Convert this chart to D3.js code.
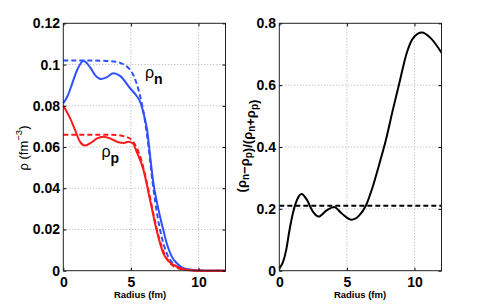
<!DOCTYPE html>
<html>
<head>
<meta charset="utf-8">
<script src="https://cdn.jsdelivr.net/npm/d3@7"></script>
<style>
  body { margin: 0; background: #fff; }
  svg { display: block; }
  .tick text { font-family: "Liberation Sans", Arial, sans-serif; font-weight: bold; font-size: 14px; fill: #000; }
  .tick line { stroke: #000; }
</style>
</head>
<body>
<script>
// neutron density, solid (fm, fm^-3)
const rN = [0, 0.3, 0.62, 1.0, 1.5, 2.0, 2.4, 2.77, 3.2, 3.7, 4.2, 4.94, 5.4, 5.68, 5.95, 6.22, 6.4, 6.67, 6.9, 7.16, 7.4, 7.65, 8.0, 8.4, 8.8, 9.26, 10, 11, 12];
const rhoN = [0.0812, 0.0845, 0.090, 0.097, 0.1017, 0.0985, 0.0945, 0.093, 0.0938, 0.0958, 0.0945, 0.0885, 0.085, 0.082, 0.076, 0.0674, 0.057, 0.0424, 0.034, 0.0262, 0.0197, 0.0133, 0.0072, 0.0036, 0.0015, 0.0007, 0.0001, 0, 0];
// neutron density, dashed
const rNd = [0, 1, 2, 3, 3.9, 4.3, 4.7, 5.19, 5.56, 5.93, 6.17, 6.3, 6.6, 6.96, 7.3, 7.7, 8.1, 8.5, 9, 9.5, 10, 11, 12];
const rhoNd = [0.102, 0.102, 0.102, 0.1018, 0.1014, 0.1006, 0.099, 0.0948, 0.0878, 0.077, 0.067, 0.0605, 0.0432, 0.0268, 0.0158, 0.0077, 0.0036, 0.0017, 0.0006, 0.0002, 0.0001, 0, 0];
// proton density, solid
const rP = [0, 0.5, 0.87, 1.23, 1.6, 2.1, 2.5, 2.95, 3.46, 4.07, 4.5, 4.8, 5.14, 5.43, 5.93, 6.42, 6.9, 7.4, 7.8, 8.15, 8.9, 9.5, 10, 12];
const rhoP = [0.080, 0.074, 0.0683, 0.0626, 0.0607, 0.0623, 0.0642, 0.065, 0.0642, 0.0623, 0.062, 0.0626, 0.0618, 0.0577, 0.0489, 0.0343, 0.0197, 0.0084, 0.0045, 0.0028, 0.0007, 0.0002, 0, 0];
// proton density, dashed
const rPd = [0, 1, 2, 3, 4.0, 4.5, 5.0, 5.4, 5.8, 6.1, 6.4, 6.7, 7.0, 7.4, 7.8, 8.2, 8.7, 9.5, 10, 12];
const rhoPd = [0.066, 0.066, 0.066, 0.066, 0.0658, 0.0652, 0.0638, 0.060, 0.053, 0.045, 0.036, 0.0265, 0.018, 0.0095, 0.0045, 0.002, 0.0008, 0.0001, 0, 0];
// asymmetry (rho_n - rho_p)/(rho_n + rho_p)
const rA = [0, 0.25, 0.5, 0.75, 1.0, 1.3, 1.65, 2.0, 2.5, 2.9, 3.5, 4.05, 4.6, 5.35, 5.9, 6.4, 6.9, 7.4, 7.9, 8.4, 8.9, 9.4, 9.9, 10.55, 11.2, 12];
const asym = [0.008, 0.025, 0.065, 0.13, 0.185, 0.228, 0.248, 0.232, 0.19, 0.175, 0.195, 0.206, 0.186, 0.165, 0.178, 0.21, 0.27, 0.345, 0.425, 0.52, 0.61, 0.70, 0.752, 0.770, 0.752, 0.705];
const asymRef = 0.21;

const xTicks = [0, 5, 10];
const yTicksL = [0, 0.02, 0.04, 0.06, 0.08, 0.1, 0.12];
const yTicksR = [0, 0.2, 0.4, 0.6, 0.8];

const W = 485, H = 305;
const yTop = 23.3, yBottom = 270.7;
const BLUE = "#2f50ff", RED = "#ff1a1a";

const svg = d3.select("body").append("svg").attr("width", W).attr("height", H);
svg.append("rect").attr("width", W).attr("height", H).attr("fill", "#fff");

function panel(x0, x1, yMax, yTicks, gridY) {
  const x = d3.scaleLinear().domain([0, 12]).range([x0, x1]);
  const y = d3.scaleLinear().domain([0, yMax]).range([yBottom, yTop]);
  const g = svg.append("g");

  // dotted grid
  g.selectAll(".gx").data(xTicks.filter(d => d > 0)).join("line")
    .attr("x1", d => x(d)).attr("x2", d => x(d)).attr("y1", yTop).attr("y2", yBottom)
    .attr("stroke", "#b0b0b0").attr("stroke-dasharray", "1,2");
  g.selectAll(".gy").data(gridY).join("line")
    .attr("y1", d => y(d)).attr("y2", d => y(d)).attr("x1", x0).attr("x2", x1)
    .attr("stroke", "#b0b0b0").attr("stroke-dasharray", "1,2");

  // axes, ticks inside on all four sides
  const fmt = d => d === 0 ? "0" : String(d);
  const ax = (a, t) => a.tickValues(t).tickFormat(fmt).tickSizeInner(-3).tickSizeOuter(0);
  svg.append("g").attr("transform", `translate(0,${yBottom})`)
    .call(ax(d3.axisBottom(x), xTicks).tickPadding(6.3)).call(s => s.select(".domain").remove());
  svg.append("g").attr("transform", `translate(0,${yTop})`)
    .call(ax(d3.axisTop(x), xTicks)).call(s => { s.select(".domain").remove(); s.selectAll("text").remove(); });
  svg.append("g").attr("transform", `translate(${x0},0)`)
    .call(ax(d3.axisLeft(y), yTicks).tickPadding(3.3)).call(s => s.select(".domain").remove());
  svg.append("g").attr("transform", `translate(${x1},0)`)
    .call(ax(d3.axisRight(y), yTicks)).call(s => { s.select(".domain").remove(); s.selectAll("text").remove(); });

  svg.append("rect").attr("x", x0).attr("y", yTop).attr("width", x1 - x0).attr("height", yBottom - yTop)
    .attr("fill", "none").attr("stroke", "#222").attr("stroke-width", 1);
  return {x, y, g};
}

function curve(p, xs, ys, color, dashed) {
  const line = d3.line().x(d => p.x(d[0])).y(d => p.y(d[1])).curve(d3.curveMonotoneX);
  p.g.append("path").datum(d3.zip(xs, ys)).attr("d", line)
    .attr("fill", "none").attr("stroke", color).attr("stroke-width", 2)
    .attr("stroke-dasharray", dashed ? "5,3" : null);
}

// left panel
const L = panel(63.3, 225.5, 0.12, yTicksL, [0.02, 0.04, 0.06, 0.08, 0.1]);
curve(L, rNd, rhoNd, BLUE, true);
curve(L, rN, rhoN, BLUE, false);
curve(L, rPd, rhoPd, RED, true);
curve(L, rP, rhoP, RED, false);

// right panel
const R = panel(279.3, 441.5, 0.8, yTicksR, [0.2, 0.4, 0.6]);
curve(R, [0, 12], [asymRef, asymRef], "#000", true);
curve(R, rA, asym, "#000", false);

const font = "'Liberation Sans', Arial, sans-serif";

// curve labels
function rhoLabel(x, y, sub) {
  const t = svg.append("text").attr("x", x).attr("y", y).attr("font-family", font).attr("font-size", 16);
  t.append("tspan").text("ρ");
  t.append("tspan").attr("dy", 6).attr("font-weight", "bold").attr("font-size", 14).text(sub);
}
rhoLabel(145, 77.5, "n");
rhoLabel(101.5, 157, "p");

// x labels
[140, 360].forEach(cx => {
  svg.append("text").attr("x", cx).attr("y", 298).attr("text-anchor", "middle")
    .attr("font-family", font).attr("font-weight", "bold").attr("font-size", 9.5).text("Radius (fm)");
});

// y labels
const yl = svg.append("text").attr("transform", "translate(28,148) rotate(-90)")
  .attr("text-anchor", "middle").attr("font-family", font).attr("font-size", 13);
yl.append("tspan").text("ρ (fm");
yl.append("tspan").attr("dy", -6).attr("font-size", 9.5).text("−3");
yl.append("tspan").attr("dy", 6).text(")");

const yr = svg.append("text").attr("transform", "translate(246,146) rotate(-90)")
  .attr("text-anchor", "middle").attr("font-family", font).attr("font-weight", "bold").attr("font-size", 13);
[["(ρ", "n"], ["−ρ", "p"], [")/(ρ", "n"], ["+ρ", "p"], [")", null]].forEach(([main, sub]) => {
  yr.append("tspan").text(main);
  if (sub) {
    yr.append("tspan").attr("dy", 3).attr("font-size", 10).text(sub);
    yr.append("tspan").attr("dy", -3).text("");
  }
});
</script>
</body>
</html>
